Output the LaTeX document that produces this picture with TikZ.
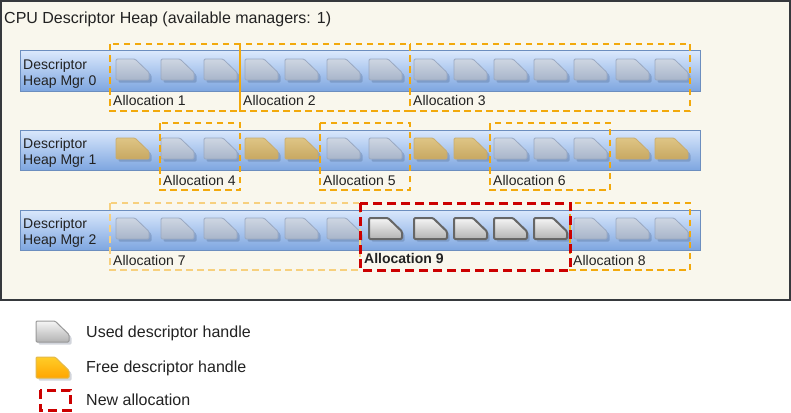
\documentclass[tikz,border=0pt]{standalone}
\usepackage{fontspec}
\setmainfont{Liberation Sans}
\definecolor{framefill}{HTML}{F9F7ED}
\definecolor{framedraw}{HTML}{36393D}
\definecolor{bartop}{HTML}{DAE8FC}
\definecolor{barbot}{HTML}{7EA6E0}
\definecolor{bardraw}{HTML}{6C8EBF}
\definecolor{ufadetop}{HTML}{CED6E2}
\definecolor{ufadebot}{HTML}{A8B5CA}
\definecolor{ufadedraw}{HTML}{9AA9C2}
\definecolor{ffadetop}{HTML}{DEC585}
\definecolor{ffadebot}{HTML}{C8A862}
\definecolor{ffadedraw}{HTML}{C9AC6E}
\definecolor{grtop}{HTML}{F5F5F5}
\definecolor{grbot}{HTML}{B3B3B3}
\definecolor{grdraw}{HTML}{666666}
\definecolor{ortop}{HTML}{FFCD28}
\definecolor{orbot}{HTML}{FFA500}
\definecolor{ordraw}{HTML}{D79B00}
\definecolor{allocc}{HTML}{F2A90C}
\definecolor{allocl}{HTML}{F7D07E}
\definecolor{newc}{HTML}{CC0000}
\definecolor{txtc}{HTML}{222222}
\definecolor{shadowc}{HTML}{1F3050}
\tikzset{
  pics/hdl/.style={code={
    \fill[shadowc, fill opacity=0.2, rounded corners=1.2]
      (2.5,2.5) -- (21.5,2.5) -- (35.5,16) -- (35.5,23.5) -- (2.5,23.5) -- cycle;
    \path[#1, rounded corners=1.2]
      (0,0) -- (19,0) -- (33,13.5) -- (33,21) -- (0,21) -- cycle;
  }},
  hused/.style={top color=ufadetop, bottom color=ufadebot, draw=ufadedraw, line width=0.8pt},
  hfree/.style={top color=ffadetop, bottom color=ffadebot, draw=ffadedraw, line width=0.8pt},
  hnew/.style={top color=grtop, bottom color=grbot, draw=grdraw, line width=2pt},
  hlegu/.style={top color=grtop, bottom color=grbot, draw=gray!80, line width=1pt},
  hlegf/.style={top color=ortop, bottom color=orbot, draw=ordraw!70, line width=1pt},
  barbox/.style={top color=bartop, bottom color=barbot, draw=bardraw, line width=1pt},
  allocbox/.style={draw=allocc, line width=2pt, dash pattern=on 6.5pt off 4.5pt},
  alloclight/.style={draw=allocl, line width=2pt, dash pattern=on 6.5pt off 4.5pt},
  newbox/.style={draw=newc, line width=3pt, dash pattern=on 9pt off 5pt},
  txt/.style={font=\fontsize{14}{16}\selectfont, text=txtc, inner sep=0pt, anchor=base west},
  bigtxt/.style={font=\fontsize{16}{18}\selectfont, text=txtc, inner sep=0pt, anchor=base west}
}
\begin{document}
\begin{tikzpicture}[x=1pt,y=-1pt]
\useasboundingbox (0,0) rectangle (791,412);
\fill[white] (0,0) rectangle (791,412);
% frame
\draw[fill=framefill, draw=framedraw, line width=1.5pt] (1,1) rectangle (790,300);
\node[bigtxt] (title) at (4,23.5) {CPU Descriptor Heap (available managers: 1)};
% bars
\draw[barbox] (20,51) rectangle (700,91);
\draw[barbox] (20,130) rectangle (700,170);
\draw[barbox] (20,210) rectangle (700,250);
\node[txt] (m0a) at (23,69.5) {Descriptor};
\node[txt] (m0b) at (23,85) {Heap Mgr 0};
\node[txt] (m1a) at (23,148.5) {Descriptor};
\node[txt] (m1b) at (23,164) {Heap Mgr 1};
\node[txt] (m2a) at (23,228.5) {Descriptor};
\node[txt] (m2b) at (23,244) {Heap Mgr 2};
% handles row 0
\foreach \x in {116,161,204,245,285,327,369,414,454,494,534,574,616,655}
  \pic at (\x,59) {hdl=hused};
% handles row 1
\foreach \x in {161,204,327,369,494,534,574}
  \pic at (\x,138) {hdl=hused};
\foreach \x in {116,245,285,414,454,616,655}
  \pic at (\x,138) {hdl=hfree};
% handles row 2
\foreach \x in {116,161,204,245,285,327,574,616,655}
  \pic at (\x,218) {hdl=hused};
\foreach \x in {369,414,454,494,534}
  \pic at (\x,218) {hdl=hnew};
% allocations row 0
\draw[allocbox] (110,44) rectangle (240,111);
\draw[allocbox] (240,44) rectangle (410,111);
\draw[allocbox] (410,44) rectangle (690,111);
\node[txt] (a1) at (113,105) {Allocation 1};
\node[txt] (a2) at (243,105) {Allocation 2};
\node[txt] (a3) at (413,105) {Allocation 3};
% allocations row 1
\draw[allocbox] (160,123) rectangle (240,190);
\draw[allocbox] (320,123) rectangle (410,190);
\draw[allocbox] (490,123) rectangle (610,190);
\node[txt] (a4) at (163,185) {Allocation 4};
\node[txt] (a5) at (323,185) {Allocation 5};
\node[txt] (a6) at (493,185) {Allocation 6};
% allocations row 2
\draw[alloclight] (110,203) rectangle (360,270);
\draw[allocbox] (570,203) rectangle (690,270);
\draw[newbox] (360,203) rectangle (570,270);
\node[txt] (a7) at (113,265) {Allocation 7};
\node[txt] (a8) at (573,265) {Allocation 8};
\node[txt, font=\fontsize{14}{16}\selectfont\bfseries] (a9) at (364,263.5) {Allocation 9};
% legend
\pic at (36,321) {hdl=hlegu};
\pic at (36,357) {hdl=hlegf};
\draw[newbox] (40,390) rectangle (70,410);
\node[bigtxt] (l1) at (86,337.5) {Used descriptor handle};
\node[bigtxt] (l2) at (86,372.5) {Free descriptor handle};
\node[bigtxt] (l3) at (86,405.5) {New allocation};
\end{tikzpicture}
\end{document}
